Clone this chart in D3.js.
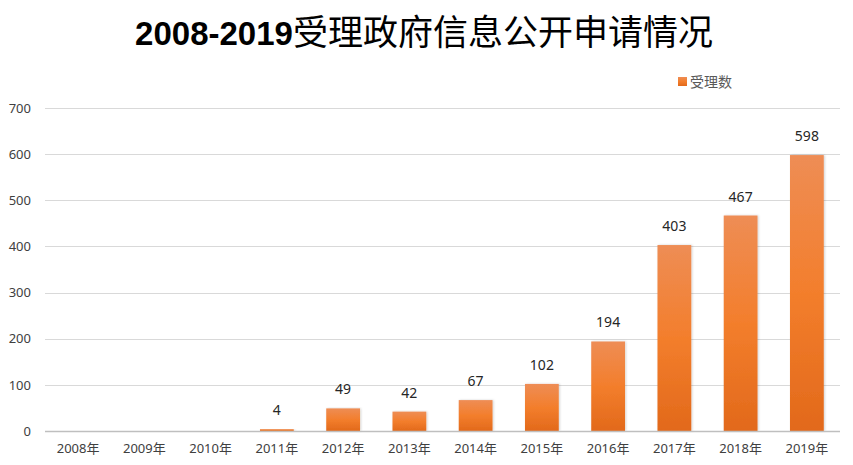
<!DOCTYPE html>
<html><head><meta charset="utf-8">
<script src="https://cdn.jsdelivr.net/npm/d3@7"></script>
<style>
html,body{margin:0;padding:0;background:#fff;}
svg{display:block;}
</style></head>
<body>
<svg id="chart" width="853" height="465"></svg>
<script>
const categories = ["2008年","2009年","2010年","2011年","2012年","2013年","2014年","2015年","2016年","2017年","2018年","2019年"];
const values = [null, null, null, 4, 49, 42, 67, 102, 194, 403, 467, 598];
const yTicks = [0, 100, 200, 300, 400, 500, 600, 700];
const seriesName = "受理数";
const titleNum = "2008-2019";
const titleText = "受理政府信息公开申请情况";

const svg = d3.select("#chart");
const W = 853, H = 465;
const margin = {left: 45, right: 13, top: 108, bottom: 34};
const x = d3.scaleBand().domain(categories).range([margin.left, W - margin.right]).paddingInner(0.49).paddingOuter(0.245);
const y = d3.scaleLinear().domain([0, 700]).range([H - margin.bottom, margin.top]);

const defs = svg.append("defs");
const grad = defs.append("linearGradient").attr("id", "barGrad").attr("x1", 0).attr("y1", 0).attr("x2", 0).attr("y2", 1);
grad.append("stop").attr("offset", "0%").attr("stop-color", "#EE8D55");
grad.append("stop").attr("offset", "50%").attr("stop-color", "#F37E2C");
grad.append("stop").attr("offset", "100%").attr("stop-color", "#E2691B");
const sh = defs.append("filter").attr("id", "shadow").attr("x", "-20%").attr("y", "-5%").attr("width", "140%").attr("height", "110%");
sh.append("feDropShadow").attr("dx", 1).attr("dy", 0).attr("stdDeviation", 1.2).attr("flood-color", "#000").attr("flood-opacity", 0.18);

const font = "'Noto Sans', 'Noto Sans CJK SC', sans-serif";

// gridlines
svg.append("g").selectAll("line").data(yTicks.filter(d => d > 0)).join("line")
  .attr("x1", margin.left).attr("x2", W - margin.right)
  .attr("y1", d => Math.round(y(d)) + 0.5).attr("y2", d => Math.round(y(d)) + 0.5)
  .attr("stroke", "#D9D9D9").attr("stroke-width", 1);

// y axis labels
const yAxis = d3.axisLeft(y).tickValues(yTicks).tickSize(0).tickPadding(0);
const yg = svg.append("g").attr("transform", `translate(${margin.left - 14},0)`).call(yAxis);
yg.select(".domain").remove();
yg.selectAll("text").attr("font-family", font).attr("font-size", 13).attr("fill", "#404040");

const rows = categories.map((c, i) => ({c, v: values[i]})).filter(d => d.v != null);

// bars
svg.append("g").selectAll("rect").data(rows).join("rect")
  .attr("x", d => x(d.c)).attr("width", x.bandwidth())
  .attr("y", d => y(d.v)).attr("height", d => y(0) - y(d.v))
  .attr("fill", "url(#barGrad)").attr("filter", "url(#shadow)");

// data labels
svg.append("g").selectAll("text").data(rows).join("text")
  .attr("x", d => x(d.c) + x.bandwidth() / 2).attr("y", d => y(d.v) - 14)
  .attr("text-anchor", "middle").attr("font-family", font).attr("font-size", 14).attr("fill", "#262626")
  .text(d => d.v);

// baseline
svg.append("line").attr("x1", margin.left).attr("x2", W - margin.right)
  .attr("y1", Math.round(y(0)) + 0.5).attr("y2", Math.round(y(0)) + 0.5)
  .attr("stroke", "#BFBFBF").attr("stroke-width", 1.5);

// x axis
const xAxis = d3.axisBottom(x).tickSize(0).tickPadding(0);
const xg = svg.append("g").attr("transform", `translate(0,${y(0) + 13})`).call(xAxis);
xg.select(".domain").remove();
xg.selectAll("text").attr("font-family", font).attr("font-size", 13).attr("fill", "#404040").attr("dy", "0.71em");

// title
const t = svg.append("text").attr("x", 424).attr("y", 45).attr("text-anchor", "middle").attr("fill", "#000");
t.append("tspan").attr("font-family", "'Liberation Sans Narrow', 'Liberation Sans', sans-serif").attr("font-weight", "bold").attr("font-size", 33).text(titleNum);
t.append("tspan").attr("font-family", "'Noto Sans CJK SC', sans-serif").attr("font-weight", 400).attr("font-size", 35).text(titleText);

// legend
const lg = svg.append("g").attr("transform", "translate(678,77)");
lg.append("rect").attr("width", 9).attr("height", 9).attr("fill", "url(#barGrad)");
lg.append("text").attr("x", 12).attr("y", 10).attr("font-family", font).attr("font-size", 14).attr("fill", "#595959").text(seriesName);
</script>
</body></html>
